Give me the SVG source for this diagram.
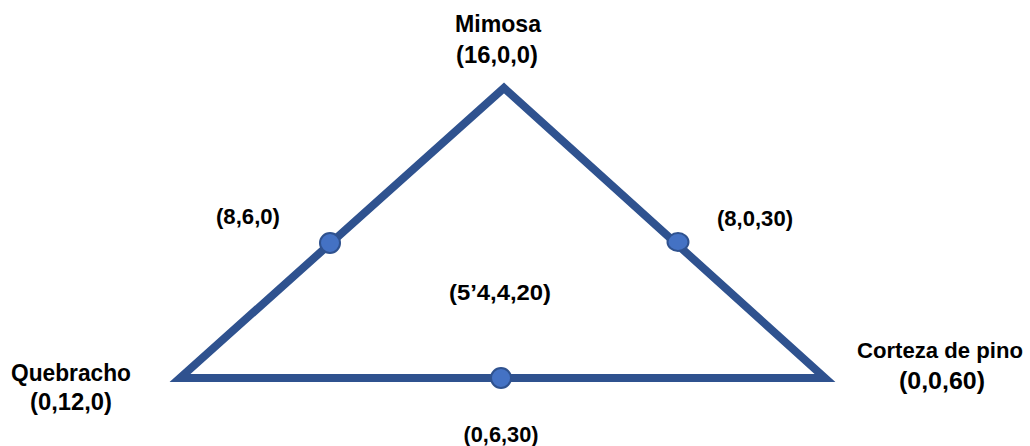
<svg xmlns="http://www.w3.org/2000/svg" width="1030" height="446" viewBox="0 0 1030 446">
<style>
.edge{fill:none;stroke:#2F528F;stroke-width:8;stroke-linejoin:miter;stroke-miterlimit:10}
.dot{fill:#4472C4;stroke:#2F528F;stroke-width:2}
.big{font-family:"Liberation Sans",Arial,sans-serif;font-weight:bold;font-size:24px;fill:#000;text-anchor:middle}
.small{font-family:"Liberation Sans",Arial,sans-serif;font-weight:bold;font-size:22px;fill:#000;text-anchor:middle}
</style>
<rect width="1030" height="446" fill="#fff"/>
<g id="connectors">
<polygon class="edge" points="504,88 825,378 180,378"/>
</g>
<g id="mimosa">
<text class="big" x="498" y="32" textLength="86" lengthAdjust="spacingAndGlyphs">Mimosa</text>
<text class="big" x="497" y="63" textLength="82" lengthAdjust="spacingAndGlyphs">(16,0,0)</text>
</g>
<g id="quebracho">
<text class="big" x="71" y="381" textLength="120" lengthAdjust="spacingAndGlyphs">Quebracho</text>
<text class="big" x="71" y="410" textLength="82" lengthAdjust="spacingAndGlyphs">(0,12,0)</text>
</g>
<g id="corteza">
<text class="big" x="940" y="358" style="font-size:22.2px" textLength="166" lengthAdjust="spacingAndGlyphs">Corteza de pino</text>
<text class="big" x="942" y="389" textLength="86" lengthAdjust="spacingAndGlyphs">(0,0,60)</text>
</g>
<g id="p860">
<circle class="dot" cx="330" cy="243" r="10"/>
<text class="small" x="248" y="224" textLength="64" lengthAdjust="spacingAndGlyphs">(8,6,0)</text>
</g>
<g id="p8030">
<ellipse class="dot" cx="678" cy="242" rx="10.5" ry="9"/>
<text class="small" x="755" y="226" textLength="76" lengthAdjust="spacingAndGlyphs">(8,0,30)</text>
</g>
<g id="p0630">
<circle class="dot" cx="501" cy="378" r="10"/>
<text class="small" x="501" y="442" textLength="75" lengthAdjust="spacingAndGlyphs">(0,6,30)</text>
</g>
<g id="center">
<text class="small" x="500" y="300" textLength="102" lengthAdjust="spacingAndGlyphs">(5’4,4,20)</text>
</g>
</svg>
